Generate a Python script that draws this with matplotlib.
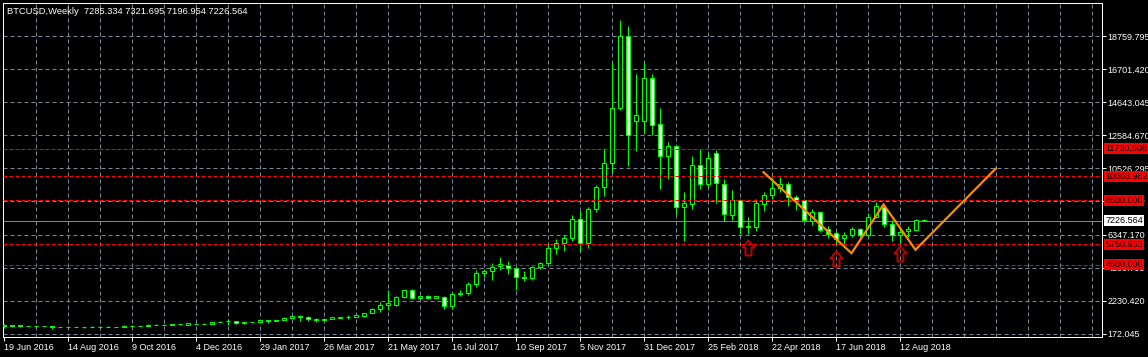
import numpy as np
import pandas as pd
import matplotlib
matplotlib.use("Agg")
import matplotlib.pyplot as plt
from matplotlib.path import Path

# ---------------- data ----------------
title_text = "BTCUSD,Weekly  7285.334 7321.695 7196.954 7226.564"
start_date = "2016-06-19"

opens = [740, 650, 700, 660, 670, 660, 655, 585, 580, 578,
         575, 608, 610, 605, 610, 612, 690, 680, 670, 750,
         740, 745, 760, 720, 810, 800, 770, 930, 950, 990,
         830, 900, 900, 1040, 990, 1020, 1150, 1290, 1230, 1100,
         1040, 1090, 1190, 1220, 1240, 1260, 1460, 1700, 2000, 1960,
         2460, 2880, 2400, 2550, 2420, 2500, 1900, 2660, 2700, 3270,
         3950, 4080, 4380, 4500, 4290, 3710, 3640, 4330, 4580, 5520,
         5830, 6160, 7350, 5820, 7950, 9340, 10840, 14280, 18780, 13470,
         13470, 16150, 13280, 11280, 11900, 8070, 8280, 10720, 9530, 11440,
         9530, 7610, 8530, 6850, 6860, 8280, 8820, 9280, 9530, 8730,
         8530, 7230, 7750, 6720, 6440, 6150, 6320, 6720, 6340, 7440,
         8110, 7030, 6340, 6570, 6650, 7285.334]
highs = [760, 750, 710, 690, 680, 665, 670, 600, 590, 585,
         620, 640, 630, 640, 615, 700, 700, 690, 760, 780,
         760, 800, 800, 840, 830, 820, 940, 990, 1110, 1000,
         930, 930, 1050, 1060, 1060, 1200, 1320, 1330, 1300, 1180,
         1130, 1240, 1250, 1350, 1330, 1500, 1800, 2140, 2880, 2520,
         2920, 2940, 2600, 2600, 2560, 2560, 2760, 2880, 3400, 4150,
         4250, 4600, 4980, 4690, 4330, 4080, 4430, 4630, 5780, 6100,
         6360, 7600, 7860, 8110, 9480, 11780, 17130, 19800, 19420, 16400,
         17170, 16400, 14280, 12150, 11950, 9030, 11250, 11690, 11500, 11650,
         9840, 9150, 8590, 7480, 8590, 9000, 9940, 9940, 9630, 8860,
         8590, 7970, 7860, 6920, 6610, 6500, 6820, 6750, 7690, 8380,
         8280, 7280, 6820, 6920, 7340, 7321.695]
lows = [520, 590, 600, 640, 645, 640, 470, 570, 565, 570,
        560, 590, 590, 595, 600, 600, 660, 660, 660, 700,
        735, 720, 730, 700, 790, 780, 760, 880, 750, 760,
        800, 880, 890, 860, 980, 1010, 1140, 970, 960, 880,
        1000, 1080, 1150, 1110, 1230, 1250, 1440, 1550, 1680, 1900,
        2420, 2330, 2330, 2330, 2380, 1690, 1700, 2540, 2620, 3120,
        3730, 3550, 4150, 3880, 2900, 3500, 3530, 4200, 4460, 5140,
        5320, 5940, 5320, 5530, 7760, 8760, 10190, 14170, 10630, 11570,
        12740, 12590, 9190, 9820, 7650, 5940, 7940, 9190, 9320, 8320,
        7230, 7280, 6400, 6400, 6590, 7860, 8590, 9000, 8170, 7900,
        7190, 6980, 6500, 6150, 5780, 5780, 6230, 6230, 6190, 7400,
        6820, 5950, 5720, 6190, 6610, 7196.954]
closes = [630, 740, 660, 670, 660, 655, 580, 580, 578, 575,
          608, 610, 605, 610, 612, 690, 680, 670, 750, 740,
          745, 760, 770, 830, 800, 790, 930, 940, 1000, 830,
          900, 910, 1040, 990, 1050, 1180, 1300, 1210, 1100, 1040,
          1100, 1230, 1200, 1240, 1320, 1490, 1750, 2000, 2080, 2500,
          2880, 2390, 2550, 2400, 2510, 1900, 2650, 2720, 3290, 3980,
          4100, 4370, 4560, 4300, 3710, 3650, 4370, 4610, 5560, 5860,
          6160, 7350, 5820, 7970, 9340, 10840, 14280, 18780, 12590, 13840,
          16150, 13220, 11280, 11900, 8090, 8320, 10720, 9530, 11150, 9590,
          7650, 8530, 6820, 6900, 8320, 8860, 9280, 9530, 8730, 8480,
          7280, 7750, 6650, 6400, 6090, 6340, 6720, 6320, 7480, 8170,
          7030, 6360, 6500, 6720, 7280, 7226.564]

ytick_values = [172.045, 2230.420, 4288.795, 6347.170, 8467.920,
                10526.295, 12584.670, 14643.045, 16701.420, 18759.795]

level_prices = [11730.508, 10003.982, 8500.000, 5750.953, 4500.000]
current_price = 7226.564

zigzag_bars = [95, 106, 110, 114, 124]
zigzag_prices = [10266, 5206, 8248, 5419, 10478]

arrow_bars = [93, 104, 112]
arrow_prices = [6000, 5331, 5643]

# ---------------- layout ----------------
W, H, DPI = 1148, 357, 100
PX = 72.0 / DPI          # one pixel in points
FONT = ["Liberation Sans", "DejaVu Sans"]
plt.rcParams["font.family"] = FONT

GREEN = "#00FF00"
GRID = "#778899"
FG = "white"

fig = plt.figure(figsize=(W / DPI, H / DPI), dpi=DPI, facecolor="black")
left_px, right_px, top_px, bot_px = 2.5, 1101.5, 2.5, 336.5
ax = fig.add_axes([left_px / W, 1 - bot_px / H,
                   (right_px - left_px) / W, (bot_px - top_px) / H])
ax.set_facecolor("black")

n = len(opens)
idx = np.arange(n)
o = np.array(opens, float); h = np.array(highs, float)
l = np.array(lows, float); c = np.array(closes, float)

# axis ranges: bar i centred at pixel 3.5 + 8 i
ax.set_xlim((left_px - 3.5) / 8.0, (right_px - 3.5) / 8.0)
ppx = 62.46
ax.set_ylim(172.045 - (bot_px - 333.8) * ppx, 172.045 + (333.8 - top_px) * ppx)

# grid
y0, y1 = ax.get_ylim()
x0, x1 = ax.get_xlim()
grid_x = np.arange(4, x1, 4)
ax.vlines(grid_x, y0, y1, colors=GRID, lw=PX, linestyles=(0, (4, 3)), zorder=1)
ax.hlines(ytick_values, x0, x1, colors=GRID, lw=PX, linestyles=(0, (4, 3)), zorder=1)

# current price line
ax.axhline(current_price, color=GRID, lw=PX, zorder=1.5)

# candles
bull = c >= o
ax.vlines(idx, l, h, colors=GREEN, lw=PX * 1.05, zorder=3)
ax.bar(idx, np.abs(c - o), bottom=np.minimum(o, c), width=0.5,
       color=np.where(bull, "black", "white"), edgecolor=GREEN,
       linewidth=PX * 1.05, zorder=4)

# red horizontal levels
for lv in level_prices:
    ax.axhline(lv, color="#FF0000", lw=PX, linestyle=(0, (4, 2)), zorder=5)

# zigzag
ax.plot(zigzag_bars, zigzag_prices, color="#FF8C00", lw=2.2 * PX, zorder=6,
        solid_joinstyle="miter")

# arrows (tip at the data point)
arrow_path = Path([(0, 0), (6, -7), (3, -7), (3, -15), (-3, -15), (-3, -7),
                   (-6, -7), (0, 0)],
                  [Path.MOVETO] + [Path.LINETO] * 6 + [Path.CLOSEPOLY])
ax.plot(arrow_bars, arrow_prices, linestyle="none", marker=arrow_path,
        markersize=15 * PX * 2, markerfacecolor="none",
        markeredgecolor="#C00000", markeredgewidth=1.4, zorder=7)

# spines
for s in ax.spines.values():
    s.set_color(FG)
    s.set_linewidth(PX)

# x ticks
dates = pd.date_range(start_date, periods=n, freq="7D")
xt = idx[::8]
ax.set_xticks(xt)
ax.set_xticklabels([f"{d.day} {d.strftime('%b %Y')}" for d in dates[xt]],
                   ha="left")
ax.tick_params(axis="x", colors=FG, labelcolor=FG, labelsize=6.5,
               length=4 * PX, width=PX, pad=1.5)

# y ticks on the right
ax.yaxis.tick_right()
ax.set_yticks(ytick_values)
ax.set_yticklabels([f"{v:.3f}" for v in ytick_values])
ax.tick_params(axis="y", colors=FG, labelcolor=FG, labelsize=6.5,
               length=4 * PX, width=PX, pad=1.5)

# price label boxes
for lv in level_prices:
    ax.annotate(f"{lv:.3f}", xy=(1.0, lv), xycoords=("axes fraction", "data"),
                xytext=(4 * PX, 0), textcoords="offset points",
                va="center", ha="left", fontsize=6.5, color="black",
                bbox=dict(boxstyle="square,pad=0.12", fc="#FF0000", ec="none"),
                annotation_clip=False, zorder=20)
ax.annotate(f"{current_price:.3f}", xy=(1.0, current_price),
            xycoords=("axes fraction", "data"),
            xytext=(4 * PX, 0), textcoords="offset points",
            va="center", ha="left", fontsize=6.5, color="black",
            bbox=dict(boxstyle="square,pad=0.12", fc="white", ec="none"),
            annotation_clip=False, zorder=20)

# title
fig.text(7 / W, 1 - 11 / H, title_text, color=FG, fontsize=6.75,
         ha="left", va="center")

fig.savefig("out.png", dpi=DPI, facecolor="black")
